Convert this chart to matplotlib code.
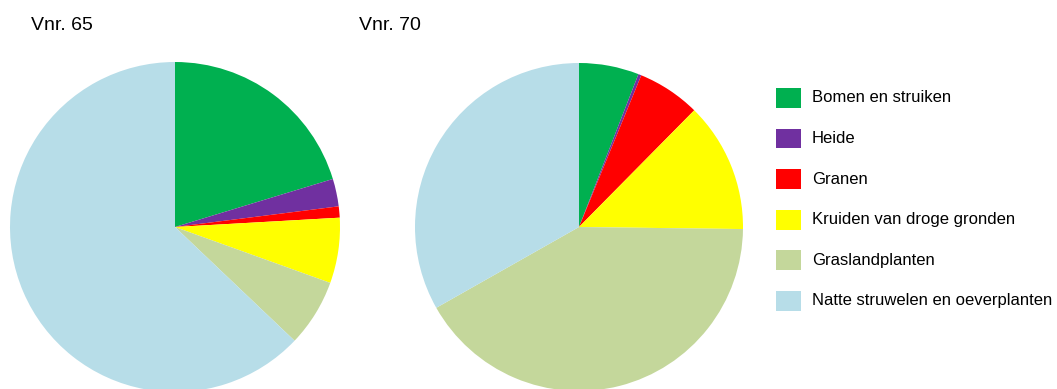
import matplotlib.pyplot as plt
from matplotlib.patches import Rectangle

plt.rcParams["font.family"] = ["Liberation Sans", "DejaVu Sans"]

categories = [
    "Bomen en struiken",
    "Heide",
    "Granen",
    "Kruiden van droge gronden",
    "Graslandplanten",
    "Natte struwelen en oeverplanten",
]
colors = ["#00B050", "#7030A0", "#FF0000", "#FFFF00", "#C4D79B", "#B7DDE8"]

titles = ["Vnr. 65", "Vnr. 70"]
vnr65 = [20.3, 2.7, 1.1, 6.4, 6.6, 62.9]
vnr70 = [5.9, 0.3, 6.2, 12.8, 41.6, 33.2]

W, H = 1057, 389
fig = plt.figure(figsize=(W / 100, H / 100), dpi=100)


def px_axes(cx, cy, r):
    # square axes centred at pixel (cx, cy) from the top-left corner
    return fig.add_axes([(cx - r) / W, (H - cy - r) / H, 2 * r / W, 2 * r / H])


for (cx, cy, r), values, title, tx in [
    ((175, 227, 165), vnr65, titles[0], 31),
    ((579, 227, 164), vnr70, titles[1], 359),
]:
    ax = px_axes(cx, cy, r)
    ax.pie(values, colors=colors, startangle=90, counterclock=False,
           radius=1, wedgeprops=dict(linewidth=0))
    ax.set_xlim(-1, 1)
    ax.set_ylim(-1, 1)
    ax.set_aspect("equal")
    ax.axis("off")
    fig.text(tx / W, 1 - 25 / H, title, fontsize=14, va="center", ha="left")

# legend
for i, (name, c) in enumerate(zip(categories, colors)):
    yc = 98 + i * 40.5
    fig.patches.append(Rectangle((776 / W, 1 - (yc + 10) / H), 25 / W, 20 / H,
                                 transform=fig.transFigure, facecolor=c,
                                 edgecolor="none"))
    fig.text(812 / W, 1 - yc / H, name, fontsize=12, va="center", ha="left")

fig.savefig("out.png", dpi=100)
